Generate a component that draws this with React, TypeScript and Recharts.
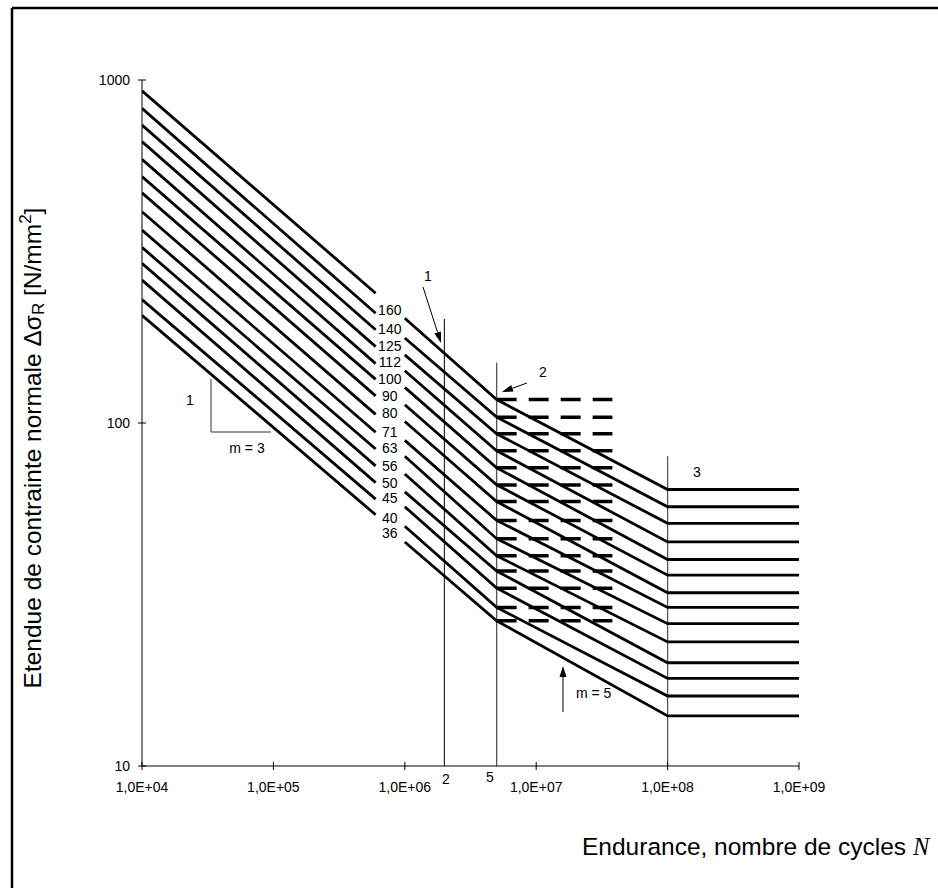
import React from "react"
import {
  ComposedChart,
  Line,
  XAxis,
  YAxis,
  ReferenceLine,
  LabelList,
} from "recharts"

// detail categories (N/mm²)
const categories = [160, 140, 125, 112, 100, 90, 80, 71, 63, 56, 50, 45, 40, 36]

// cycle counts where the curves bend / stop
const nStart = 1e4
const nGapStart = 6e5
const nGapEnd = 1e6
const nKnee = 5e6
const nDashEnd = 3.8e7
const nCutoff = 1e8
const nEnd = 1e9

// stress ranges at those cycle counts
const sigmaStart = [930, 827, 739, 661, 587, 523, 469, 413, 365, 325, 292, 261, 229, 206]
const sigmaGapStart = [239, 209, 187, 167, 149, 134, 120, 106, 94, 84, 75, 67, 60, 54]
const sigmaGapEnd = [202, 177, 158, 142, 127, 113, 101, 89, 80, 71, 63, 57, 50, 45]
const sigmaKnee = [117, 104, 93, 83, 74, 66, 59, 52, 46, 41, 37, 33, 29, 26.5]
const sigmaCutoff = [64, 57, 51, 45, 40, 36, 32, 29, 26, 23, 20, 18, 16, 14]

const xTicks = [1e4, 1e5, 1e6, 1e7, 1e8, 1e9]
const yTicks = [10, 100, 1000]

// vertical marker lines: [N, top of line in N/mm²]
const markers = [
  { n: 2e6, top: 201, stroke: "#000", w: 1 },
  { n: 5e6, top: 150, stroke: "#555", w: 1.3 },
  { n: 1e8, top: 80, stroke: "#555", w: 1.3 },
]

const font = "'Liberation Sans', Arial, sans-serif"

const fmtExp = (v: number) => "1,0E+" + String(Math.round(Math.log10(v))).padStart(2, "0")

const XTick = (props: any) => {
  const { x, y, payload } = props
  return (
    <g>
      <line x1={x} x2={x} y1={y - 20} y2={y - 12} stroke="#000" strokeWidth={1} />
      <text x={x} y={y} dy="0.71em" textAnchor="middle" fontSize={14} fontFamily={font} fill="#000">
        {fmtExp(payload.value)}
      </text>
    </g>
  )
}

const YTick = (props: any) => {
  const { x, y, payload } = props
  return (
    <g>
      <line x1={x + 8} x2={x + 16} y1={y} y2={y} stroke="#000" strokeWidth={1} />
      <text x={x} y={y} dy="0.36em" textAnchor="end" fontSize={14} fontFamily={font} fill="#000">
        {payload.value}
      </text>
    </g>
  )
}

const CategoryLabel = (props: any) => {
  const { x, y, value, index } = props
  if (index !== 0) return null
  return (
    <text x={x - 15} y={y - 3.5} textAnchor="middle" fontSize={14} fontFamily={font} fill="#000">
      {value}
    </text>
  )
}

const Arrow = ({ x1, y1, x2, y2 }: { x1: number; y1: number; x2: number; y2: number }) => {
  const dx = x2 - x1
  const dy = y2 - y1
  const len = Math.hypot(dx, dy)
  const ux = dx / len
  const uy = dy / len
  const hl = 11
  const hw = 3.5
  const bx = x2 - ux * hl
  const by = y2 - uy * hl
  return (
    <g>
      <line x1={x1} y1={y1} x2={bx} y2={by} stroke="#000" strokeWidth={1} />
      <polygon
        points={`${x2},${y2} ${bx - uy * hw},${by + ux * hw} ${bx + uy * hw},${by - ux * hw}`}
        fill="#000"
      />
    </g>
  )
}

export default function App() {
  const curves = categories.map((c, i) => ({
    c,
    upper: [
      { n: nStart, s: sigmaStart[i] },
      { n: nGapStart, s: sigmaGapStart[i] },
    ],
    lower: [
      { n: nGapEnd, s: sigmaGapEnd[i], c },
      { n: nKnee, s: sigmaKnee[i], c },
      { n: nCutoff, s: sigmaCutoff[i], c },
      { n: nEnd, s: sigmaCutoff[i], c },
    ],
    dash: [
      { n: nKnee, s: sigmaKnee[i] },
      { n: nDashEnd, s: sigmaKnee[i] },
    ],
  }))

  return (
    <div style={{ position: "absolute", left: 0, top: 0, width: 938, height: 888, background: "#fff" }}>
      <ComposedChart
        width={938}
        height={888}
        margin={{ top: 80, right: 139, bottom: 92, left: 82 }}
      >
        <XAxis
          dataKey="n"
          type="number"
          scale="log"
          domain={[1e4, 1e9]}
          ticks={xTicks}
          interval={0}
          allowDataOverflow
          height={30}
          tickSize={0}
          tickMargin={16}
          tickLine={false}
          axisLine={{ stroke: "#000", strokeWidth: 1 }}
          tick={<XTick />}
        />
        <YAxis
          type="number"
          scale="log"
          domain={[10, 1000]}
          ticks={yTicks}
          interval={0}
          allowDataOverflow
          width={60}
          tickSize={0}
          tickMargin={12}
          tickLine={false}
          axisLine={{ stroke: "#000", strokeWidth: 1 }}
          tick={<YTick />}
        />
        {markers.map((m) => (
          <ReferenceLine
            key={m.n}
            segment={[
              { x: m.n, y: 10 },
              { x: m.n, y: m.top },
            ]}
            stroke={m.stroke}
            strokeWidth={m.w}
            ifOverflow="visible"
          />
        ))}
        {curves.map((cv) => (
          <Line
            key={"u" + cv.c}
            data={cv.upper}
            dataKey="s"
            type="linear"
            stroke="#000"
            strokeWidth={2.8}
            dot={false}
            activeDot={false}
            isAnimationActive={false}
          />
        ))}
        {curves.map((cv) => (
          <Line
            key={"l" + cv.c}
            data={cv.lower}
            dataKey="s"
            type="linear"
            stroke="#000"
            strokeWidth={2.8}
            dot={false}
            activeDot={false}
            isAnimationActive={false}
          >
            <LabelList dataKey="c" content={<CategoryLabel />} />
          </Line>
        ))}
        {curves.map((cv) => (
          <Line
            key={"d" + cv.c}
            data={cv.dash}
            dataKey="s"
            type="linear"
            stroke="#000"
            strokeWidth={3.5}
            strokeDasharray="20 12"
            dot={false}
            activeDot={false}
            isAnimationActive={false}
          />
        ))}
      </ComposedChart>

      <svg
        width={938}
        height={888}
        style={{ position: "absolute", left: 0, top: 0, pointerEvents: "none" }}
        fontFamily={font}
      >
        {/* frame */}
        <line x1={12} y1={8} x2={12} y2={888} stroke="#000" strokeWidth={2.5} />
        <line x1={12} y1={8} x2={938} y2={8} stroke="#000" strokeWidth={2.5} />

        {/* axis titles */}
        <text
          transform="translate(41,448) rotate(-90)"
          textAnchor="middle"
          fontSize={24.5}
          fill="#000"
        >
          Etendue de contrainte normale Δσ
          <tspan fontSize={17} dy={3}>R</tspan>
          <tspan dy={-3}> [N/mm</tspan>
          <tspan fontSize={17} dy={-10}>2</tspan>
          <tspan dy={10}>]</tspan>
        </text>
        <text x={582} y={855} fontSize={24.5} fill="#000">
          Endurance, nombre de cycles{" "}
          <tspan fontFamily="'Liberation Serif', 'Times New Roman', serif" fontStyle="italic">
            N
          </tspan>
        </text>

        {/* slope triangle m = 3 */}
        <polyline points="211,379 211,432 271,432" fill="none" stroke="#333" strokeWidth={1} />
        <text x={190} y={405} textAnchor="middle" fontSize={14} fill="#000">1</text>
        <text x={247} y={453} textAnchor="middle" fontSize={14} fill="#000">m = 3</text>

        {/* callouts */}
        <text x={428} y={281} textAnchor="middle" fontSize={14} fill="#000">1</text>
        <Arrow x1={423} y1={287} x2={441} y2={343} />
        <text x={543} y={377} textAnchor="middle" fontSize={14} fill="#000">2</text>
        <Arrow x1={527} y1={383} x2={502} y2={392} />
        <text x={697} y={477} textAnchor="middle" fontSize={14} fill="#000">3</text>
        <Arrow x1={563} y1={712} x2={563} y2={666} />
        <text x={576} y={698} fontSize={14} fill="#000">m = 5</text>

        {/* N markers below the axis */}
        <text x={446} y={784} textAnchor="middle" fontSize={14} fill="#000">2</text>
        <text x={490} y={782} textAnchor="middle" fontSize={14} fill="#000">5</text>
      </svg>
    </div>
  )
}
